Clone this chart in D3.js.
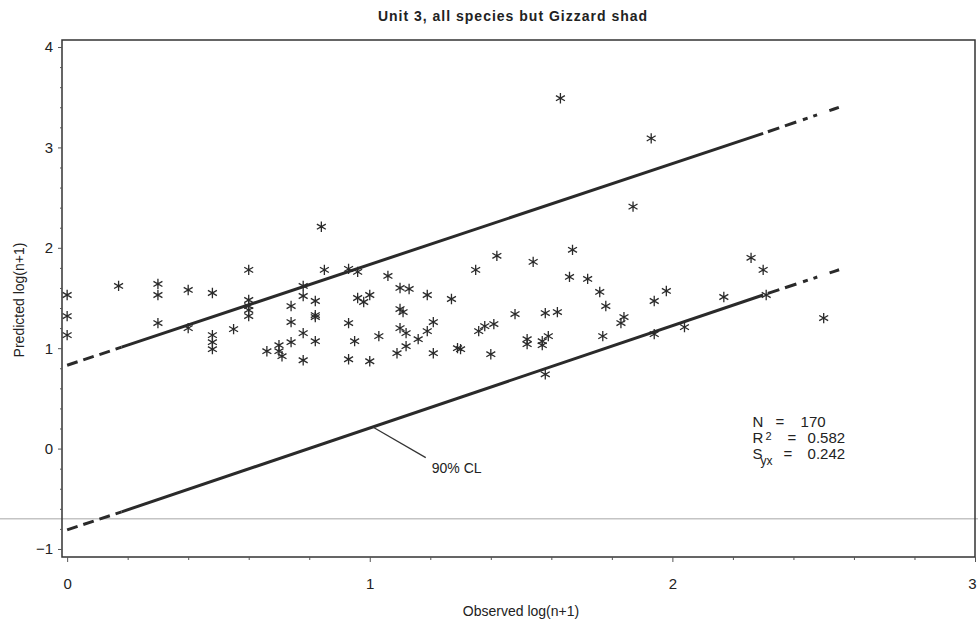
<!DOCTYPE html>
<html>
<head>
<meta charset="utf-8">
<script src="https://cdn.jsdelivr.net/npm/d3@7"></script>
<style>
  body { margin: 0; background: #fff; }
  text { font-family: "Liberation Sans", Arial, sans-serif; fill: #222; }
</style>
</head>
<body>
<div id="chart"></div>
<script>
// observed vs predicted
const obsX = [0.00, 0.00, 0.00, 0.17, 0.30, 0.30, 0.30, 0.40, 0.40, 0.48,
  0.48, 0.48, 0.48, 0.55, 0.60, 0.60, 0.60, 0.60, 0.60, 0.66,
  0.70, 0.70, 0.71, 0.74, 0.74, 0.74, 0.78, 0.78, 0.78, 0.78,
  0.82, 0.82, 0.82, 0.82, 0.84, 0.85, 0.93, 0.96, 0.96, 0.98,
  1.00, 0.93, 0.95, 0.93, 1.00, 1.03, 1.06, 1.10, 1.13, 1.19,
  1.27, 1.10, 1.11, 1.10, 1.12, 1.16, 1.12, 1.09, 1.19, 1.21,
  1.21, 1.30, 1.29, 1.35, 1.40, 1.36, 1.38, 1.41, 1.42, 1.48,
  1.54, 1.52, 1.52, 1.57, 1.59, 1.57, 1.58, 1.58, 1.62, 1.63,
  1.66, 1.67, 1.72, 1.76, 1.78, 1.77, 1.83, 1.84, 1.87, 1.93,
  1.94, 1.94, 1.98, 2.04, 2.17, 2.26, 2.30, 2.31, 2.50];
const predY = [1.53, 1.32, 1.13, 1.62, 1.64, 1.53, 1.25, 1.58, 1.20, 1.55,
  1.13, 1.06, 0.99, 1.19, 1.78, 1.48, 1.42, 1.38, 1.32, 0.97,
  1.03, 0.97, 0.92, 1.42, 1.26, 1.06, 1.62, 1.52, 1.15, 0.88,
  1.47, 1.33, 1.31, 1.07, 2.21, 1.78, 1.79, 1.76, 1.50, 1.46,
  1.53, 1.25, 1.07, 0.89, 0.87, 1.12, 1.72, 1.60, 1.59, 1.53,
  1.49, 1.39, 1.36, 1.20, 1.15, 1.09, 1.02, 0.95, 1.17, 1.26,
  0.95, 0.99, 1.00, 1.78, 0.94, 1.17, 1.22, 1.24, 1.92, 1.34,
  1.86, 1.09, 1.04, 1.07, 1.12, 1.03, 0.74, 1.35, 1.36, 3.49,
  1.71, 1.98, 1.69, 1.56, 1.42, 1.12, 1.25, 1.31, 2.41, 3.09,
  1.47, 1.14, 1.57, 1.21, 1.51, 1.90, 1.78, 1.53, 1.30];

// 90% confidence limits: dashed start, solid middle, dash-dot end
const clBreaksX = [0, 0.18, 2.30, 2.58];
const upperCL = [0.83, 1.01, 3.14, 3.43];
const lowerCL = [-0.81, -0.63, 1.53, 1.81];

const xTicks = [0, 1, 2, 3];
const yTicks = [-1, 0, 1, 2, 3, 4];
const title = "Unit 3, all species but Gizzard shad";
const xTitle = "Observed log(n+1)";
const yTitle = "Predicted log(n+1)";
const statN = "170", statR2 = "0.582", statSyx = "0.242";
const scanLineY = -0.70;

const width = 978, height = 630;
const svg = d3.select("#chart").append("svg")
  .attr("width", width).attr("height", height);

const xScale = d3.scaleLinear().domain([-0.017, 3.0]).range([62, 975]);
const yScale = d3.scaleLinear().domain([-1.08, 4.07]).range([557, 40]);

// faint scan line across the page
svg.append("line")
  .attr("x1", 0).attr("x2", width)
  .attr("y1", yScale(scanLineY)).attr("y2", yScale(scanLineY))
  .attr("stroke", "#c4c4c4").attr("stroke-width", 1.5);

// frame
svg.append("rect")
  .attr("x", xScale.range()[0]).attr("y", yScale.range()[1])
  .attr("width", xScale.range()[1] - xScale.range()[0])
  .attr("height", yScale.range()[0] - yScale.range()[1])
  .attr("fill", "none").attr("stroke", "#333").attr("stroke-width", 1.5);

// axes
let minorX = d3.range(0, 3.0001, 0.2).filter(d => Math.abs(d - Math.round(d)) > 0.01);
let minorY = d3.range(-1, 4.0001, 0.2).filter(d => Math.abs(d - Math.round(d)) > 0.01);

let xAxisG = svg.append("g").attr("transform", "translate(0," + yScale.range()[0] + ")")
  .call(d3.axisBottom(xScale).tickValues(xTicks).tickSize(5).tickPadding(16).tickFormat(d3.format("d")));
svg.append("g").attr("transform", "translate(0," + yScale.range()[0] + ")")
  .call(d3.axisBottom(xScale).tickValues(minorX).tickSize(3).tickFormat(""));
svg.append("g").attr("transform", "translate(" + xScale.range()[0] + ",0)")
  .call(d3.axisLeft(yScale).tickValues(yTicks).tickSize(4).tickPadding(5).tickFormat(d3.format("d")));
svg.append("g").attr("transform", "translate(" + xScale.range()[0] + ",0)")
  .call(d3.axisLeft(yScale).tickValues(minorY).tickSize(2).tickFormat(""));
svg.selectAll(".domain").remove();
svg.selectAll(".tick line").attr("stroke", "#555");
svg.selectAll(".tick text").style("font-size", "15px")
  .style("font-family", "'Liberation Sans', Arial, sans-serif").attr("fill", "#1a1a1a");
// keep the last x label inside the page
xAxisG.selectAll(".tick text").filter(d => d === 3).attr("dx", -3);

// CL lines
let line = d3.line().x(d => xScale(d[0])).y(d => yScale(d[1]));
function drawCL(vals) {
  let pts = clBreaksX.map((x, i) => [x, vals[i]]);
  svg.append("path").datum(pts.slice(0, 2)).attr("d", line)
    .attr("fill", "none").attr("stroke", "#2a2a2a").attr("stroke-width", 3)
    .attr("stroke-dasharray", "11,6");
  svg.append("path").datum(pts.slice(1, 3)).attr("d", line)
    .attr("fill", "none").attr("stroke", "#2a2a2a").attr("stroke-width", 3);
  svg.append("path").datum(pts.slice(2, 4)).attr("d", line)
    .attr("fill", "none").attr("stroke", "#2a2a2a").attr("stroke-width", 3)
    .attr("stroke-dasharray", "0,5,12,6,12,7,5,6,4,13,5");
}
drawCL(upperCL);
drawCL(lowerCL);

// points
let star = d3.symbol().type(d3.symbolAsterisk).size(75);
svg.append("g").selectAll("path")
  .data(obsX.map((x, i) => [x, predY[i]]))
  .enter().append("path")
  .attr("d", star)
  .attr("transform", d => "translate(" + xScale(d[0]) + "," + yScale(d[1]) + ")")
  .attr("fill", "none").attr("stroke", "#2a2a2a").attr("stroke-width", 1.3);

// 90% CL callout
let calloutX = 1.01;
let calloutY = lowerCL[1] + (lowerCL[2] - lowerCL[1]) * (calloutX - clBreaksX[1]) / (clBreaksX[2] - clBreaksX[1]);
svg.append("line")
  .attr("x1", xScale(calloutX)).attr("y1", yScale(calloutY))
  .attr("x2", xScale(1.185)).attr("y2", yScale(-0.09))
  .attr("stroke", "#333").attr("stroke-width", 1.2);
svg.append("text").attr("x", xScale(1.205)).attr("y", yScale(-0.24))
  .style("font-size", "14px").text("90% CL");

// stats block
let sx = xScale(2.265);
let stats = svg.append("g").style("font-size", "15px");
let t1 = stats.append("text").attr("y", 427);
t1.append("tspan").attr("x", sx).text("N");
t1.append("tspan").attr("x", sx + 23).text("=");
t1.append("tspan").attr("x", sx + 48).text(statN);
let t2 = stats.append("text").attr("y", 443);
t2.append("tspan").attr("x", sx).text("R");
t2.append("tspan").attr("x", sx + 13).attr("dy", -3).style("font-size", "11px").text("2");
t2.append("tspan").attr("x", sx + 35).attr("dy", 3).text("=");
t2.append("tspan").attr("x", sx + 55).text(statR2);
let t3 = stats.append("text").attr("y", 459);
t3.append("tspan").attr("x", sx).text("S");
t3.append("tspan").attr("x", sx + 8).attr("dy", 6).style("font-size", "12px").text("yx");
t3.append("tspan").attr("x", sx + 31).attr("dy", -6).text("=");
t3.append("tspan").attr("x", sx + 55).text(statSyx);

// titles
svg.append("text").attr("x", 513).attr("y", 21).attr("text-anchor", "middle")
  .style("font-size", "14px").style("font-weight", "bold").style("letter-spacing", "1px")
  .text(title);
svg.append("text").attr("x", 521).attr("y", 616).attr("text-anchor", "middle")
  .style("font-size", "14px").text(xTitle);
svg.append("text").attr("transform", "translate(24,300) rotate(-90)").attr("text-anchor", "middle")
  .style("font-size", "14px").text(yTitle);
</script>
</body>
</html>
